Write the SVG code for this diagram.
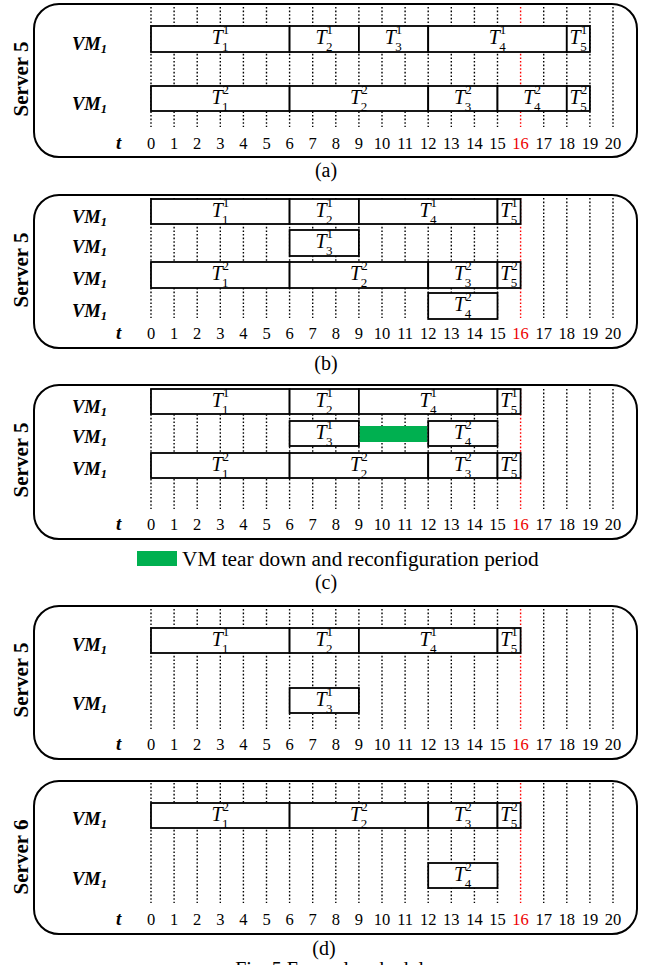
<svg xmlns="http://www.w3.org/2000/svg" xmlns:xlink="http://www.w3.org/1999/xlink" width="652" height="965" viewBox="0 0 652 965" font-family="'Liberation Serif', 'Times New Roman', 'DejaVu Serif', serif">
<style>
text{font-family:'Liberation Serif','Times New Roman','DejaVu Serif',serif}
.panel{fill:#fff;stroke:#000;stroke-width:2}
.g{stroke:#000;stroke-width:1.4;stroke-dasharray:1.6 2}
.gr{stroke:#f00;stroke-width:1.4;stroke-dasharray:1.6 2}
.b{fill:#fff;stroke:#000;stroke-width:1.8}
.tk{font-size:16.5px;text-anchor:middle;fill:#000}
.red{fill:#e00}
.vm{font-size:18.5px;font-weight:bold;font-style:italic}
.vm tspan{font-size:12.5px}
.sv{font-size:21px;font-weight:bold;text-anchor:middle}
.tt{font-size:19px;font-weight:bold;font-style:italic}
.T{font-size:20px;font-style:italic;text-anchor:middle}
.T tspan{font-size:13px;font-style:normal}
.cap{font-size:20px;text-anchor:middle}
.leg{font-size:21.3px}
.green{fill:#00B050}
</style>
<defs>
<g id="grid">
<line class="g" x1="151" y1="0" x2="151" y2="120"/>
<line class="g" x1="174.1" y1="0" x2="174.1" y2="120"/>
<line class="g" x1="197.2" y1="0" x2="197.2" y2="120"/>
<line class="g" x1="220.3" y1="0" x2="220.3" y2="120"/>
<line class="g" x1="243.4" y1="0" x2="243.4" y2="120"/>
<line class="g" x1="266.5" y1="0" x2="266.5" y2="120"/>
<line class="g" x1="289.6" y1="0" x2="289.6" y2="120"/>
<line class="g" x1="312.7" y1="0" x2="312.7" y2="120"/>
<line class="g" x1="335.8" y1="0" x2="335.8" y2="120"/>
<line class="g" x1="358.9" y1="0" x2="358.9" y2="120"/>
<line class="g" x1="382" y1="0" x2="382" y2="120"/>
<line class="g" x1="405.1" y1="0" x2="405.1" y2="120"/>
<line class="g" x1="428.2" y1="0" x2="428.2" y2="120"/>
<line class="g" x1="451.3" y1="0" x2="451.3" y2="120"/>
<line class="g" x1="474.4" y1="0" x2="474.4" y2="120"/>
<line class="g" x1="497.5" y1="0" x2="497.5" y2="120"/>
<line class="gr" x1="520.6" y1="0" x2="520.6" y2="120"/>
<line class="g" x1="543.7" y1="0" x2="543.7" y2="120"/>
<line class="g" x1="566.8" y1="0" x2="566.8" y2="120"/>
<line class="g" x1="589.9" y1="0" x2="589.9" y2="120"/>
<line class="g" x1="613" y1="0" x2="613" y2="120"/>
</g>
<g id="ticks">
<text class="tt" x="116" y="0">t</text>
<text class="tk" x="151" y="0">0</text>
<text class="tk" x="174.1" y="0">1</text>
<text class="tk" x="197.2" y="0">2</text>
<text class="tk" x="220.3" y="0">3</text>
<text class="tk" x="243.4" y="0">4</text>
<text class="tk" x="266.5" y="0">5</text>
<text class="tk" x="289.6" y="0">6</text>
<text class="tk" x="312.7" y="0">7</text>
<text class="tk" x="335.8" y="0">8</text>
<text class="tk" x="358.9" y="0">9</text>
<text class="tk" x="382" y="0">10</text>
<text class="tk" x="405.1" y="0">11</text>
<text class="tk" x="428.2" y="0">12</text>
<text class="tk" x="451.3" y="0">13</text>
<text class="tk" x="474.4" y="0">14</text>
<text class="tk" x="497.5" y="0">15</text>
<text class="tk red" x="520.6" y="0">16</text>
<text class="tk" x="543.7" y="0">17</text>
<text class="tk" x="566.8" y="0">18</text>
<text class="tk" x="589.9" y="0">19</text>
<text class="tk" x="613" y="0">20</text>
</g>
</defs>

<!-- Panel (a) -->
<g id="panel-a">
<rect class="panel" x="34" y="4" width="603" height="153" rx="25"/>
<use xlink:href="#grid" href="#grid" y="7"/>
<use xlink:href="#ticks" href="#ticks" y="149"/>
<text class="sv" transform="translate(28,79) rotate(-90)">Server 5</text>
<text class="vm" x="72" y="50">VM<tspan dy="3">1</tspan></text>
<text class="vm" x="72" y="110">VM<tspan dy="3">1</tspan></text>
<g id="a-r1-T11"><rect class="b" x="151" y="26" width="138.6" height="26"/><text class="T" x="220.3" y="44">T<tspan dy="-10">1</tspan><tspan dx="-7" dy="17">1</tspan></text></g>
<g id="a-r1-T21"><rect class="b" x="289.6" y="26" width="69.3" height="26"/><text class="T" x="324.25" y="44">T<tspan dy="-10">1</tspan><tspan dx="-7" dy="17">2</tspan></text></g>
<g id="a-r1-T31"><rect class="b" x="358.9" y="26" width="69.3" height="26"/><text class="T" x="393.55" y="44">T<tspan dy="-10">1</tspan><tspan dx="-7" dy="17">3</tspan></text></g>
<g id="a-r1-T41"><rect class="b" x="428.2" y="26" width="138.6" height="26"/><text class="T" x="497.5" y="44">T<tspan dy="-10">1</tspan><tspan dx="-7" dy="17">4</tspan></text></g>
<g id="a-r1-T51"><rect class="b" x="566.8" y="26" width="23.1" height="26"/><text class="T" x="578.35" y="44">T<tspan dy="-10">1</tspan><tspan dx="-7" dy="17">5</tspan></text></g>
<g id="a-r2-T12"><rect class="b" x="151" y="86" width="138.6" height="25"/><text class="T" x="220.3" y="104">T<tspan dy="-10">2</tspan><tspan dx="-7" dy="17">1</tspan></text></g>
<g id="a-r2-T22"><rect class="b" x="289.6" y="86" width="138.6" height="25"/><text class="T" x="358.9" y="104">T<tspan dy="-10">2</tspan><tspan dx="-7" dy="17">2</tspan></text></g>
<g id="a-r2-T32"><rect class="b" x="428.2" y="86" width="69.3" height="25"/><text class="T" x="462.85" y="104">T<tspan dy="-10">2</tspan><tspan dx="-7" dy="17">3</tspan></text></g>
<g id="a-r2-T42"><rect class="b" x="497.5" y="86" width="69.3" height="25"/><text class="T" x="532.15" y="104">T<tspan dy="-10">2</tspan><tspan dx="-7" dy="17">4</tspan></text></g>
<g id="a-r2-T52"><rect class="b" x="566.8" y="86" width="23.1" height="25"/><text class="T" x="578.35" y="104">T<tspan dy="-10">2</tspan><tspan dx="-7" dy="17">5</tspan></text></g>
<text class="cap" x="326" y="177">(a)</text>
</g>

<!-- Panel (b) -->
<g id="panel-b">
<rect class="panel" x="34" y="195" width="603" height="153" rx="25"/>
<use xlink:href="#grid" href="#grid" y="198"/>
<use xlink:href="#ticks" href="#ticks" y="339"/>
<text class="sv" transform="translate(28,270) rotate(-90)">Server 5</text>
<text class="vm" x="72" y="223">VM<tspan dy="3">1</tspan></text>
<text class="vm" x="72" y="253">VM<tspan dy="3">1</tspan></text>
<text class="vm" x="72" y="285">VM<tspan dy="3">1</tspan></text>
<text class="vm" x="72" y="317">VM<tspan dy="3">1</tspan></text>
<g id="b-r1-T11"><rect class="b" x="151" y="199" width="138.6" height="25"/><text class="T" x="220.3" y="217">T<tspan dy="-10">1</tspan><tspan dx="-7" dy="17">1</tspan></text></g>
<g id="b-r1-T21"><rect class="b" x="289.6" y="199" width="69.3" height="25"/><text class="T" x="324.25" y="217">T<tspan dy="-10">1</tspan><tspan dx="-7" dy="17">2</tspan></text></g>
<g id="b-r1-T41"><rect class="b" x="358.9" y="199" width="138.6" height="25"/><text class="T" x="428.2" y="217">T<tspan dy="-10">1</tspan><tspan dx="-7" dy="17">4</tspan></text></g>
<g id="b-r1-T51"><rect class="b" x="497.5" y="199" width="23.1" height="25"/><text class="T" x="509.05" y="217">T<tspan dy="-10">1</tspan><tspan dx="-7" dy="17">5</tspan></text></g>
<g id="b-r2-T31"><rect class="b" x="289.6" y="230" width="69.3" height="26"/><text class="T" x="324.25" y="248">T<tspan dy="-10">1</tspan><tspan dx="-7" dy="17">3</tspan></text></g>
<g id="b-r3-T12"><rect class="b" x="151" y="262" width="138.6" height="26"/><text class="T" x="220.3" y="280">T<tspan dy="-10">2</tspan><tspan dx="-7" dy="17">1</tspan></text></g>
<g id="b-r3-T22"><rect class="b" x="289.6" y="262" width="138.6" height="26"/><text class="T" x="358.9" y="280">T<tspan dy="-10">2</tspan><tspan dx="-7" dy="17">2</tspan></text></g>
<g id="b-r3-T32"><rect class="b" x="428.2" y="262" width="69.3" height="26"/><text class="T" x="462.85" y="280">T<tspan dy="-10">2</tspan><tspan dx="-7" dy="17">3</tspan></text></g>
<g id="b-r3-T52"><rect class="b" x="497.5" y="262" width="23.1" height="26"/><text class="T" x="509.05" y="280">T<tspan dy="-10">2</tspan><tspan dx="-7" dy="17">5</tspan></text></g>
<g id="b-r4-T42"><rect class="b" x="428.2" y="293" width="69.3" height="26"/><text class="T" x="462.85" y="311">T<tspan dy="-10">2</tspan><tspan dx="-7" dy="17">4</tspan></text></g>
<text class="cap" x="326" y="370">(b)</text>
</g>

<!-- Panel (c) -->
<g id="panel-c">
<rect class="panel" x="34" y="385" width="603" height="154" rx="25"/>
<use xlink:href="#grid" href="#grid" y="389"/>
<use xlink:href="#ticks" href="#ticks" y="530"/>
<text class="sv" transform="translate(28,460) rotate(-90)">Server 5</text>
<text class="vm" x="72" y="413">VM<tspan dy="3">1</tspan></text>
<text class="vm" x="72" y="443">VM<tspan dy="3">1</tspan></text>
<text class="vm" x="72" y="475">VM<tspan dy="3">1</tspan></text>
<g id="c-r1-T11"><rect class="b" x="151" y="389" width="138.6" height="25"/><text class="T" x="220.3" y="407">T<tspan dy="-10">1</tspan><tspan dx="-7" dy="17">1</tspan></text></g>
<g id="c-r1-T21"><rect class="b" x="289.6" y="389" width="69.3" height="25"/><text class="T" x="324.25" y="407">T<tspan dy="-10">1</tspan><tspan dx="-7" dy="17">2</tspan></text></g>
<g id="c-r1-T41"><rect class="b" x="358.9" y="389" width="138.6" height="25"/><text class="T" x="428.2" y="407">T<tspan dy="-10">1</tspan><tspan dx="-7" dy="17">4</tspan></text></g>
<g id="c-r1-T51"><rect class="b" x="497.5" y="389" width="23.1" height="25"/><text class="T" x="509.05" y="407">T<tspan dy="-10">1</tspan><tspan dx="-7" dy="17">5</tspan></text></g>
<g id="c-r2-T31"><rect class="b" x="289.6" y="421" width="69.3" height="25"/><text class="T" x="324.25" y="439">T<tspan dy="-10">1</tspan><tspan dx="-7" dy="17">3</tspan></text></g>
<rect id="c-r2-reconf" class="green" x="359.8" y="426" width="67.5" height="16"/>
<g id="c-r2-T42"><rect class="b" x="428.2" y="421" width="69.3" height="25"/><text class="T" x="462.85" y="439">T<tspan dy="-10">2</tspan><tspan dx="-7" dy="17">4</tspan></text></g>
<g id="c-r3-T12"><rect class="b" x="151" y="453" width="138.6" height="25"/><text class="T" x="220.3" y="471">T<tspan dy="-10">2</tspan><tspan dx="-7" dy="17">1</tspan></text></g>
<g id="c-r3-T22"><rect class="b" x="289.6" y="453" width="138.6" height="25"/><text class="T" x="358.9" y="471">T<tspan dy="-10">2</tspan><tspan dx="-7" dy="17">2</tspan></text></g>
<g id="c-r3-T32"><rect class="b" x="428.2" y="453" width="69.3" height="25"/><text class="T" x="462.85" y="471">T<tspan dy="-10">2</tspan><tspan dx="-7" dy="17">3</tspan></text></g>
<g id="c-r3-T52"><rect class="b" x="497.5" y="453" width="23.1" height="25"/><text class="T" x="509.05" y="471">T<tspan dy="-10">2</tspan><tspan dx="-7" dy="17">5</tspan></text></g>
<g id="legend"><rect class="green" x="137" y="551" width="40" height="15"/><text class="leg" x="182" y="566">VM tear down and reconfiguration period</text></g>
<text class="cap" x="326" y="589">(c)</text>
</g>

<!-- Panel (d) top -->
<g id="panel-d1">
<rect class="panel" x="34" y="606" width="603" height="153" rx="25"/>
<use xlink:href="#grid" href="#grid" y="609"/>
<use xlink:href="#ticks" href="#ticks" y="750"/>
<text class="sv" transform="translate(28,680) rotate(-90)">Server 5</text>
<text class="vm" x="72" y="651">VM<tspan dy="3">1</tspan></text>
<text class="vm" x="72" y="710">VM<tspan dy="3">1</tspan></text>
<g id="d1-r1-T11"><rect class="b" x="151" y="628" width="138.6" height="25"/><text class="T" x="220.3" y="646">T<tspan dy="-10">1</tspan><tspan dx="-7" dy="17">1</tspan></text></g>
<g id="d1-r1-T21"><rect class="b" x="289.6" y="628" width="69.3" height="25"/><text class="T" x="324.25" y="646">T<tspan dy="-10">1</tspan><tspan dx="-7" dy="17">2</tspan></text></g>
<g id="d1-r1-T41"><rect class="b" x="358.9" y="628" width="138.6" height="25"/><text class="T" x="428.2" y="646">T<tspan dy="-10">1</tspan><tspan dx="-7" dy="17">4</tspan></text></g>
<g id="d1-r1-T51"><rect class="b" x="497.5" y="628" width="23.1" height="25"/><text class="T" x="509.05" y="646">T<tspan dy="-10">1</tspan><tspan dx="-7" dy="17">5</tspan></text></g>
<g id="d1-r2-T31"><rect class="b" x="289.6" y="688" width="69.3" height="25"/><text class="T" x="324.25" y="706">T<tspan dy="-10">1</tspan><tspan dx="-7" dy="17">3</tspan></text></g>
</g>

<!-- Panel (d) bottom -->
<g id="panel-d2">
<rect class="panel" x="34" y="781" width="603" height="153" rx="25"/>
<use xlink:href="#grid" href="#grid" y="783"/>
<use xlink:href="#ticks" href="#ticks" y="925"/>
<text class="sv" transform="translate(28,857) rotate(-90)">Server 6</text>
<text class="vm" x="72" y="825">VM<tspan dy="3">1</tspan></text>
<text class="vm" x="72" y="885">VM<tspan dy="3">1</tspan></text>
<g id="d2-r1-T12"><rect class="b" x="151" y="803" width="138.6" height="25"/><text class="T" x="220.3" y="821">T<tspan dy="-10">2</tspan><tspan dx="-7" dy="17">1</tspan></text></g>
<g id="d2-r1-T22"><rect class="b" x="289.6" y="803" width="138.6" height="25"/><text class="T" x="358.9" y="821">T<tspan dy="-10">2</tspan><tspan dx="-7" dy="17">2</tspan></text></g>
<g id="d2-r1-T32"><rect class="b" x="428.2" y="803" width="69.3" height="25"/><text class="T" x="462.85" y="821">T<tspan dy="-10">2</tspan><tspan dx="-7" dy="17">3</tspan></text></g>
<g id="d2-r1-T52"><rect class="b" x="497.5" y="803" width="23.1" height="25"/><text class="T" x="509.05" y="821">T<tspan dy="-10">2</tspan><tspan dx="-7" dy="17">5</tspan></text></g>
<g id="d2-r2-T42"><rect class="b" x="428.2" y="863" width="69.3" height="25"/><text class="T" x="462.85" y="881">T<tspan dy="-10">2</tspan><tspan dx="-7" dy="17">4</tspan></text></g>
<text class="cap" x="324" y="955">(d)</text>
</g>
<text class="cap" x="334" y="976">Fig. 5 Example schedule</text>
<g id="connectors"/>
</svg>
